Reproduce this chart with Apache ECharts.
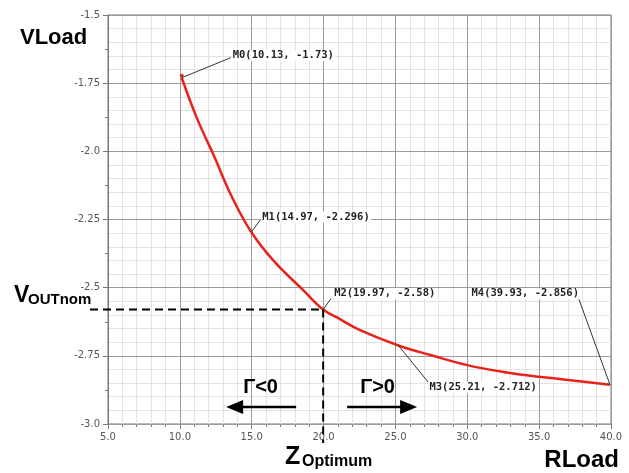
<!DOCTYPE html>
<html>
    <head>
        <meta charset="UTF-8">
        <style>
            html, body { margin: 0; padding: 0; background: #fff; }
        </style>
    </head>
    <body>
        <div id="container" style="width: 629px;height: 473px"></div>
        <script type="text/javascript" src="https://cdn.jsdelivr.net/npm/echarts@6/dist/echarts.min.js"></script>
        <script type="text/javascript">
        // curve: RLoad (x) vs VLoad (y)
        var rLoad = [10.13, 11.2, 12.4, 13.6, 14.97, 16.5, 18.6, 19.97, 21.2, 22.5, 25.21, 27.5, 30.0, 32.5, 35.0, 37.5, 39.93];
        var vLoad = [-1.73, -1.88, -2.02, -2.165, -2.296, -2.40, -2.51, -2.58, -2.617, -2.655, -2.712, -2.748, -2.784, -2.809, -2.827, -2.841, -2.856];

        // markers
        var markerNames = ["M0", "M1", "M2", "M3", "M4"];
        var markerX = [10.13, 14.97, 19.97, 25.21, 39.93];
        var markerY = [-1.73, -2.296, -2.58, -2.712, -2.856];

        // axis ranges
        var xRange = [5, 40];
        var yRange = [-3.0, -1.5];

        var myChart = echarts.init(document.getElementById("container"));

        var curve = rLoad.map(function (x, i) { return [x, vLoad[i]]; });

        var option = {
            animation: false,
            grid: {
                left: 108, right: 18, top: 15, bottom: 49,
                show: true, borderColor: "#777", borderWidth: 1
            },
            xAxis: {
                type: "value",
                min: xRange[0], max: xRange[1], interval: 5,
                axisLine: { lineStyle: { color: "#777" } },
                axisTick: { length: 5, lineStyle: { color: "#777" } },
                minorTick: { show: true, splitNumber: 5, length: 3, lineStyle: { color: "#777" } },
                splitLine: { lineStyle: { color: "#9a9a9a" } },
                minorSplitLine: { show: true, lineStyle: { color: "#e2e2e2" } },
                axisLabel: {
                    margin: 8, color: "#555", fontSize: 10, fontFamily: "DejaVu Sans",
                    formatter: function (v) { return v.toFixed(1); }
                }
            },
            yAxis: [{
                type: "value",
                min: yRange[0], max: yRange[1], interval: 0.25,
                z: 2,
                axisLine: { show: true, lineStyle: { color: "#777" } },
                axisTick: { show: true, length: 5, lineStyle: { color: "#777" } },
                minorTick: { show: true, splitNumber: 2, length: 3, lineStyle: { color: "#777" } },
                splitLine: { lineStyle: { color: "#9a9a9a" } },
                axisLabel: {
                    margin: 8, color: "#555", fontSize: 10, fontFamily: "DejaVu Sans",
                    formatter: function (v) {
                        return Math.abs(v * 2 - Math.round(v * 2)) < 1e-6 ? v.toFixed(1) : v.toFixed(2);
                    }
                }
            }, {
                type: "value",
                min: yRange[0], max: yRange[1], interval: 0.25,
                position: "left", z: 0,
                axisLine: { show: false },
                axisTick: { show: false },
                axisLabel: { show: false },
                splitLine: { show: false },
                minorTick: { show: false, splitNumber: 5 },
                minorSplitLine: { show: true, lineStyle: { color: "#e2e2e2" } }
            }],
            series: [{
                name: "VLoad",
                type: "line",
                smooth: 0.4,
                data: curve,
                showSymbol: false,
                z: 5,
                lineStyle: { color: "#e8231c", width: 2.5 }
            }]
        };
        myChart.setOption(option);

        // callouts: pixel offsets of the leader line end and the text anchor from each marker
        var leaderEnd = [[49, -20], [9, -12], [8, -11], [30, 37], [-32, -88]];
        var textAnchor = [[50, -22], [10, -15], [10, -16], [30, 42], [-30, -91]];
        var textAlign = ["left", "left", "left", "left", "right"];

        var graphics = [];
        var labelFont = "bold 10.5px 'DejaVu Sans Mono'";
        markerNames.forEach(function (name, i) {
            var p = myChart.convertToPixel({ gridIndex: 0 }, [markerX[i], markerY[i]]);
            graphics.push({
                type: "line", z: 10,
                shape: { x1: p[0], y1: p[1], x2: p[0] + leaderEnd[i][0], y2: p[1] + leaderEnd[i][1] },
                style: { stroke: "#333", lineWidth: 1 }
            });
            graphics.push({
                type: "text", z: 11,
                x: p[0] + textAnchor[i][0], y: p[1] + textAnchor[i][1],
                style: {
                    text: name + "(" + markerX[i] + ", " + markerY[i] + ")",
                    font: labelFont, fill: "#222",
                    align: textAlign[i], verticalAlign: "middle",
                    backgroundColor: "#fff", padding: [0, 1]
                }
            });
        });

        // start dot of the curve
        var p0 = myChart.convertToPixel({ gridIndex: 0 }, [markerX[0], markerY[0]]);
        graphics.push({ type: "circle", z: 9, shape: { cx: p0[0], cy: p0[1] - 2, r: 2 }, style: { fill: "#e8231c" } });

        // nominal point guides (M2)
        var opt = myChart.convertToPixel({ gridIndex: 0 }, [markerX[2], markerY[2]]);
        var dashStyle = { stroke: "#000", lineWidth: 2, lineDash: [8, 5] };
        graphics.push({ type: "line", z: 8, shape: { x1: 90, y1: opt[1], x2: opt[0], y2: opt[1] }, style: dashStyle });
        graphics.push({ type: "line", z: 8, shape: { x1: opt[0], y1: opt[1], x2: opt[0], y2: 443 }, style: dashStyle });

        // direction arrows
        function arrow(xTail, xTip, y) {
            var dir = xTip > xTail ? 1 : -1;
            graphics.push({ type: "line", z: 12, shape: { x1: xTail, y1: y, x2: xTip - dir * 14, y2: y }, style: { stroke: "#000", lineWidth: 2.5 } });
            graphics.push({
                type: "polygon", z: 12,
                shape: { points: [[xTip, y], [xTip - dir * 17, y - 7], [xTip - dir * 17, y + 7]] },
                style: { fill: "#000" }
            });
        }
        arrow(opt[0] - 27, opt[0] - 97, 407);
        arrow(opt[0] + 24, opt[0] + 94, 407);

        var bigFont = "'Liberation Sans', Arial, sans-serif";
        function label(text, x, y, size, align) {
            graphics.push({
                type: "text", z: 12, x: x, y: y,
                style: { text: text, font: "bold " + size + "px " + bigFont, fill: "#000", align: align || "left", verticalAlign: "middle" }
            });
        }
        label("\u0393<0", opt[0] - 80, 387, 20);
        label("\u0393>0", opt[0] + 37, 387, 20);
        label("VLoad", 20, 38, 22);
        label("V", 14, 296, 23);
        label("OUTnom", 28, 300, 15);
        label("Z", 285, 457, 25);
        label("Optimum", 302, 462, 16);
        label("RLoad", 619, 460, 24, "right");

        myChart.setOption({ graphic: graphics });
        </script>
    </body>
</html>
